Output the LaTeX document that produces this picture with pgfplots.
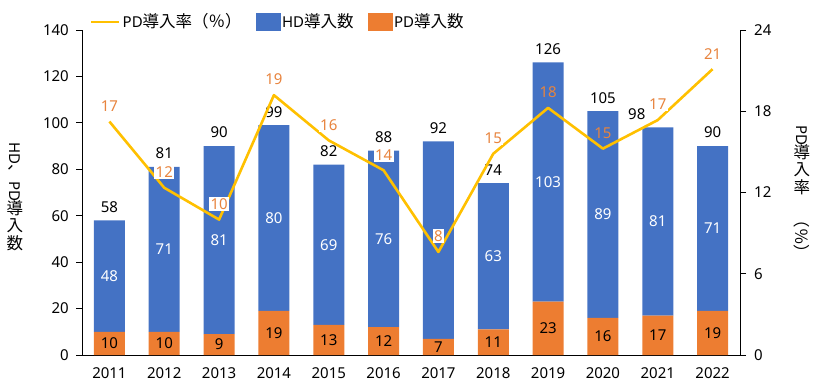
\documentclass[border=0pt]{standalone}
\usepackage{pgfplots}
\usepackage{pgfplotstable}
\pgfplotsset{compat=1.18}
\usepackage{fontspec}
\setmainfont{Noto Sans}
\newfontfamily\cjk[Scale=1.1]{Noto Sans CJK JP}
\definecolor{hdblue}{HTML}{4472C4}
\definecolor{pdorange}{HTML}{ED7D31}
\definecolor{rateyellow}{HTML}{FFC000}
\definecolor{ratetext}{HTML}{E8843E}
\pgfplotsset{/pgf/number format/assume math mode=true}

\pgfplotstableread{
x year pd hd total
0 2011 10 48 58
1 2012 10 71 81
2 2013 9 81 90
3 2014 19 80 99
4 2015 13 69 82
5 2016 12 76 88
6 2017 7 85 92
7 2018 11 63 74
8 2019 23 103 126
9 2020 16 89 105
10 2021 17 81 98
11 2022 19 71 90
}\data

\pgfplotsset{
  common/.style={
    at={(82pt,31pt)}, anchor=south west,
    scale only axis, width=658pt, height=325pt,
    xmin=-0.5, xmax=11.5,
  }
}

\begin{document}
\fontsize{15}{18}\selectfont
\begin{tikzpicture}
\path[use as bounding box] (0,0) rectangle (825pt,386pt);

% bars
\begin{axis}[common,
  ybar stacked, bar width=31pt,
  ymin=0, ymax=140, ytick={0,20,...,140},
  xtick={0,...,11},
  xticklabels={2011,2012,2013,2014,2015,2016,2017,2018,2019,2020,2021,2022},
  axis y line*=left, axis x line*=bottom,
  tick align=outside, major tick length=6pt,
  x tick style={draw=none},
  y tick style={black, line width=0.8pt},
  axis line style={black, line width=0.8pt},
  yticklabel style={xshift=-2pt},
  xticklabel style={yshift=-1pt},
  ylabel={\begin{tabular}{@{}c@{}}\rotatebox{-90}{HD{\cjk 、}PD}\\[-1pt]{\cjk 導}\\[-1pt]{\cjk 入}\\[-1pt]{\cjk 数}\end{tabular}},
  ylabel style={rotate=-90, at={(rel axis cs:-0.102,0.5)}, anchor=center},
]
\addplot[fill=pdorange, draw=none] table[x=x, y=pd] \data;
\addplot[fill=hdblue, draw=none] table[x=x, y=hd] \data;
\end{axis}

% value labels on bars
\begin{axis}[common, hide axis, ymin=0, ymax=140]
\addplot[draw=none, mark=none, nodes near coords, point meta=explicit symbolic,
  nodes near coords style={text=black, anchor=center}]
  table[x=x, y expr=\thisrow{pd}/2, meta=pd] \data;
\addplot[draw=none, mark=none, nodes near coords, point meta=explicit symbolic,
  skip coords between index={6}{7},
  nodes near coords style={text=white, anchor=center}]
  table[x=x, y expr=\thisrow{pd}+\thisrow{hd}/2, meta=hd] \data;
\addplot[draw=none, mark=none, nodes near coords, point meta=explicit symbolic,
  skip coords between index={10}{11},
  nodes near coords style={text=black, anchor=center, yshift=13.5pt}]
  table[x=x, y=total, meta=total] \data;
\addplot[draw=none, mark=none, nodes near coords, point meta=explicit symbolic,
  restrict x to domain=9.5:10.5,
  nodes near coords style={text=black, anchor=center, yshift=13.5pt, xshift=-21pt}]
  table[x=x, y=total, meta=total] \data;
\end{axis}

% rate line
\begin{axis}[common,
  ymin=0, ymax=24, ytick={0,6,...,24},
  axis y line*=right, axis x line=none,
  tick align=outside, major tick length=6pt,
  y tick style={black, line width=0.8pt},
  axis line style={black, line width=0.8pt},
  yticklabel style={xshift=3pt},
  ylabel={\begin{tabular}{@{}c@{}}\rotatebox{-90}{PD}\\[-1pt]{\cjk 導}\\[-1pt]{\cjk 入}\\[-1pt]{\cjk 率}\\[0pt]\rotatebox{-90}{\cjk （％）}\end{tabular}},
  ylabel style={rotate=-90, at={(rel axis cs:1.094,0.517)}, anchor=center},
  legend style={at={(0.012,1.025)}, anchor=west, draw=none, fill=none,
    inner sep=0pt, legend columns=3,
    /tikz/every even column/.append style={column sep=12pt}},
]
\addplot[rateyellow, line width=2.6pt, line join=round, mark=none,
  legend image code/.code={\draw[rateyellow, line width=2.6pt] (0pt,0pt) -- (28pt,0pt);}]
  coordinates {(0,17.24) (1,12.35) (2,10.00) (3,19.19) (4,15.85) (5,13.64) (6,7.61) (7,14.86) (8,18.25) (9,15.24) (10,17.35) (11,21.11)};
\addlegendentry{PD{\cjk 導入率（％）}}
\addlegendimage{legend image code/.code={\fill[hdblue] (0pt,-8.5pt) rectangle (24pt,8.5pt);}}
\addlegendentry{HD{\cjk 導入数}}
\addlegendimage{legend image code/.code={\fill[pdorange] (0pt,-8.5pt) rectangle (24pt,8.5pt);}}
\addlegendentry{PD{\cjk 導入数}}
\addplot[forget plot, draw=none, mark=none, nodes near coords, point meta=explicit symbolic,
  nodes near coords style={text=ratetext, fill=white, inner sep=1.5pt, anchor=center, yshift=15.5pt}]
  coordinates {(0,17.24)[17] (1,12.35)[12] (2,10.00)[10] (3,19.19)[19] (4,15.85)[16] (5,13.64)[14] (6,7.61)[8] (7,14.86)[15] (10,17.35)[17] (11,21.11)[21]};
\addplot[forget plot, draw=none, mark=none, nodes near coords, point meta=explicit symbolic,
  nodes near coords style={text=ratetext, anchor=center, yshift=15.5pt}]
  coordinates {(8,18.25)[18] (9,15.24)[15]};
\end{axis}
\end{tikzpicture}
\end{document}
